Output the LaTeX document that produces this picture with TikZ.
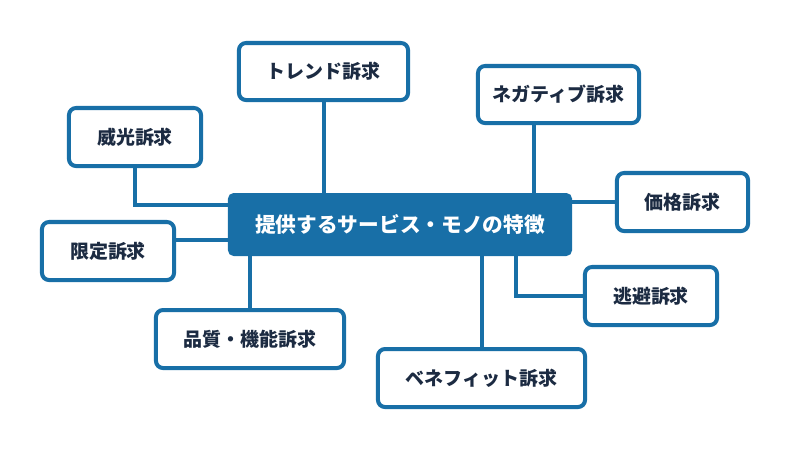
\documentclass[tikz,border=0pt]{standalone}
\usepackage{fontspec}
\setmainfont{Noto Sans CJK JP}
\usetikzlibrary{backgrounds}
\definecolor{bleu}{RGB}{24,111,167}
\definecolor{encre}{RGB}{28,43,66}

\begin{document}
\begin{tikzpicture}[x=0.025cm,y=-0.025cm]

\def \Trait {2.85pt} % epaisseur des traits et des bords
\tikzset{
    boite/.style={draw=bleu, line width=\Trait, fill=white, rounded corners=5pt,
        text=encre, font=\bfseries\fontsize{13.5}{16}\selectfont, inner sep=0pt,
        minimum height=1.45cm},
    centre/.style={fill=bleu, rounded corners=4pt, text=white,
        font=\bfseries\fontsize{14.7}{17}\selectfont, inner sep=0pt},
    lien/.style={draw=bleu, line width=\Trait}
}
\useasboundingbox (0,0) rectangle (800,450);

% boite centrale
\node[centre, minimum width=8.6cm, minimum height=1.575cm] (C) at (400,224.5) {提供するサービス・モノの特徴};

% boites autour
\node[boite, minimum width=4.225cm, minimum height=1.425cm] (T) at (323.5,71.5) {トレンド訴求};
\node[boite, minimum width=3.3cm] (I) at (135,137) {威光訴求};
\node[boite, minimum width=4.025cm, minimum height=1.425cm] (N) at (558.5,94.5) {ネガティブ訴求};
\node[boite, minimum width=3.275cm] (K) at (682.5,202) {価格訴求};
\node[boite, minimum width=3.3cm] (E) at (651,296) {逃避訴求};
\node[boite, minimum width=3.3cm] (G) at (108,251) {限定訴求};
\node[boite, minimum width=4.7cm] (H) at (250,339) {品質・機能訴求};
\node[boite, minimum width=5.175cm] (B) at (481.5,378) {ベネフィット訴求};

% points de raccord
\coordinate (PI) at (230,205);
\coordinate (PG) at (230,240);
\coordinate (PN) at (534,200);
\coordinate (PE) at (516,250);

% liens, derriere les boites
\begin{pgfonlayer}{background}
    \draw[lien] (T.south) -- (T.south |- C.north);
    \draw[lien] (I.south) |- (PI);
    \draw[lien] (PN |- N.south) -- (PN);
    \draw[lien] (K.west) -- (K.west -| C.east);
    \draw[lien] (E.west) -| (PE);
    \draw[lien] (G.east |- PG) -- (PG);
    \draw[lien] (H.north) -- (H.north |- C.south);
    \draw[lien] (B.north) -- (B.north |- C.south);
\end{pgfonlayer}

\end{tikzpicture}
\end{document}
